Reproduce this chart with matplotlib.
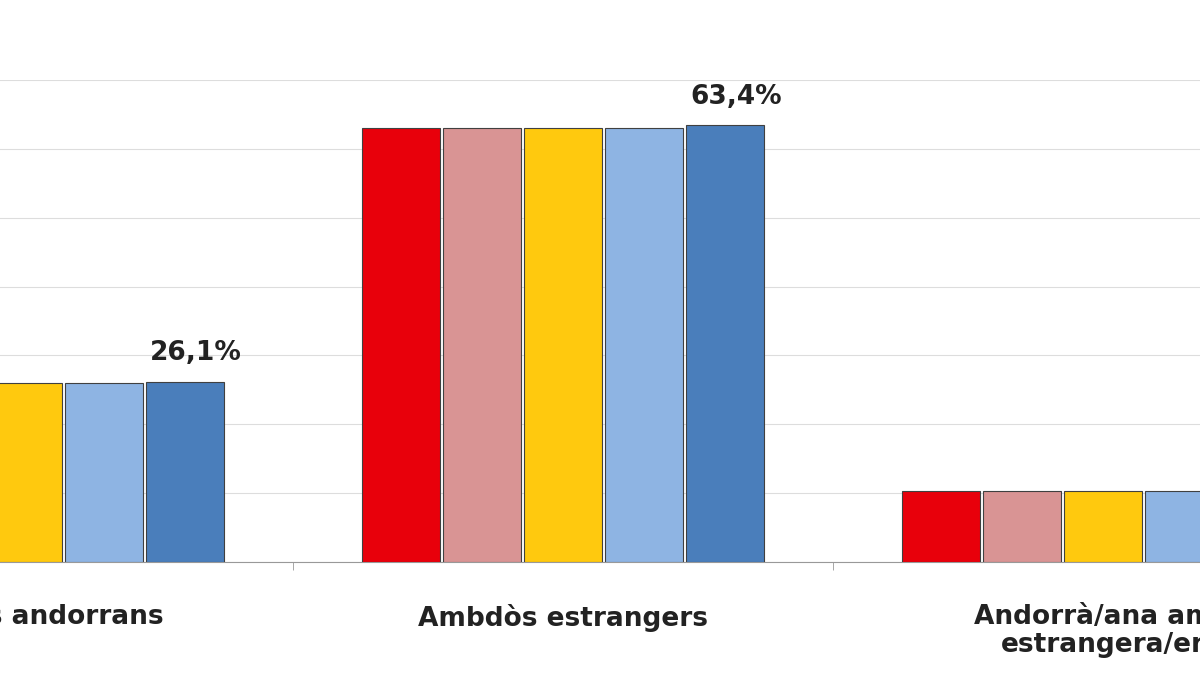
import matplotlib
matplotlib.use("Agg")
import matplotlib.pyplot as plt
import numpy as np

plt.rcParams['font.family'] = ['DejaVu Sans']

categories = ["Ambdós andorrans", "Ambdòs estrangers", "Andorrà/ana amb\nestrangera/er"]
series_colors = ["#E8000B", "#D99494", "#FFC90E", "#8EB4E3", "#4A7EBB"]
values = [
    [26.0, 63.1, 10.3],
    [26.0, 63.1, 10.3],
    [26.0, 63.1, 10.3],
    [26.0, 63.1, 10.3],
    [26.1, 63.4, 10.4],
]
labels_text = {(4, 0): "26,1%", (4, 1): "63,4%"}

fig = plt.figure(figsize=(12, 6.75), dpi=100)
ax = fig.add_axes([0, 1 - 562 / 675, 1, (562 - 80) / 675])
x = np.arange(len(categories))
w, step = 0.144, 0.15
for i, (vals, c) in enumerate(zip(values, series_colors)):
    xs = x + (i - 2) * step
    ax.bar(xs, vals, width=w, color=c, edgecolor="#404040", linewidth=0.8, zorder=3)
    for j, v in enumerate(vals):
        if (i, j) in labels_text:
            ax.text(xs[j] + 0.02, v + 2.3, labels_text[(i, j)], ha="center", va="bottom",
                    fontsize=19, fontweight="bold", color="#222222")
ax.set_xlim(-0.043, 2.180)
ax.set_ylim(0, 70)
ax.set_yticks(np.arange(0, 71, 10))
ax.yaxis.grid(True, color="#dddddd", linewidth=0.8, zorder=0)
ax.tick_params(axis="y", left=False, labelleft=False)
for s in ["top", "right", "left"]:
    ax.spines[s].set_visible(False)
ax.spines["bottom"].set_color("#999999")
ax.set_xticks(x)
ax.set_xticklabels(categories, fontsize=19, fontweight="bold", color="#222222",
                   linespacing=1.1)
ax.tick_params(axis="x", length=0, pad=30)
ax.set_xticks([0.5, 1.5], minor=True)
ax.tick_params(axis="x", which="minor", length=6, color="#999999")
fig.savefig("out.png", dpi=100)
